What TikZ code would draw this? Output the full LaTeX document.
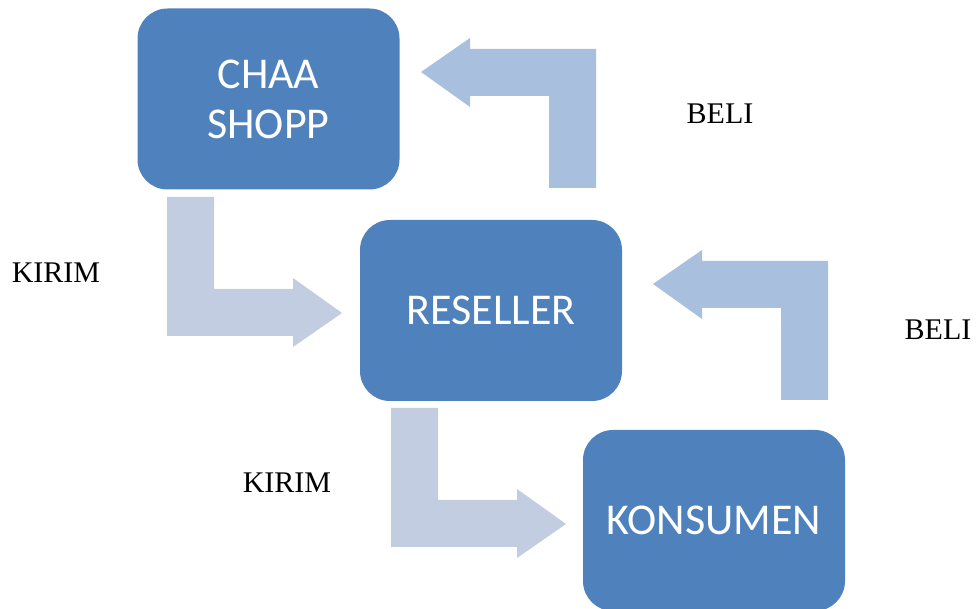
\documentclass[tikz,border=0pt]{standalone}
\usepackage{fontspec}
\setmainfont{Liberation Serif}
\newfontfamily\boxfont{Carlito}
\definecolor{boxblue}{HTML}{4F81BD}
\definecolor{kirimblue}{HTML}{C2CDE2}
\definecolor{beliblue}{HTML}{A8C0DE}

% bent block arrow, anchored at its outer corner
\newcommand{\bentarrow}[1]{%
\fill[#1] (0,0) -- (0,-139) -- (47,-139) -- (47,-47) -- (126,-47) -- (126,-58)
  -- (175,-23) -- (126,11) -- (126,0) -- cycle;}

\tikzset{
  stage/.style={fill=boxblue, rounded corners=30pt, minimum width=262pt,
    minimum height=181pt, text=white, align=center, inner sep=0pt,
    font=\boxfont\fontsize{44}{50}\selectfont},
  flowlabel/.style={anchor=base, inner sep=0pt, font=\fontsize{30}{36}\selectfont}
}

\begin{document}
\begin{tikzpicture}[x=1pt,y=-1pt]
\useasboundingbox (0,0) rectangle (978,609);

\node[stage] (shop) at (268.5,99) {CHAA\\SHOPP};
\node[stage] (reseller) at (491,310.5) {RESELLER};
\node[stage] (konsumen) at (714,520.5) {KONSUMEN};

\begin{scope}[shift={(167,336)}]
\bentarrow{kirimblue}
\end{scope}
\begin{scope}[shift={(391,547)}]
\bentarrow{kirimblue}
\end{scope}
\begin{scope}[shift={(596,49)},rotate=180]
\bentarrow{beliblue}
\end{scope}
\begin{scope}[shift={(828,261)},rotate=180]
\bentarrow{beliblue}
\end{scope}

\node[flowlabel] (kirim1) at (56,283) {KIRIM};
\node[flowlabel] (kirim2) at (287,493) {KIRIM};
\node[flowlabel] (beli1) at (720,124) {BELI};
\node[flowlabel] (beli2) at (938,340) {BELI};

\end{tikzpicture}
\end{document}
